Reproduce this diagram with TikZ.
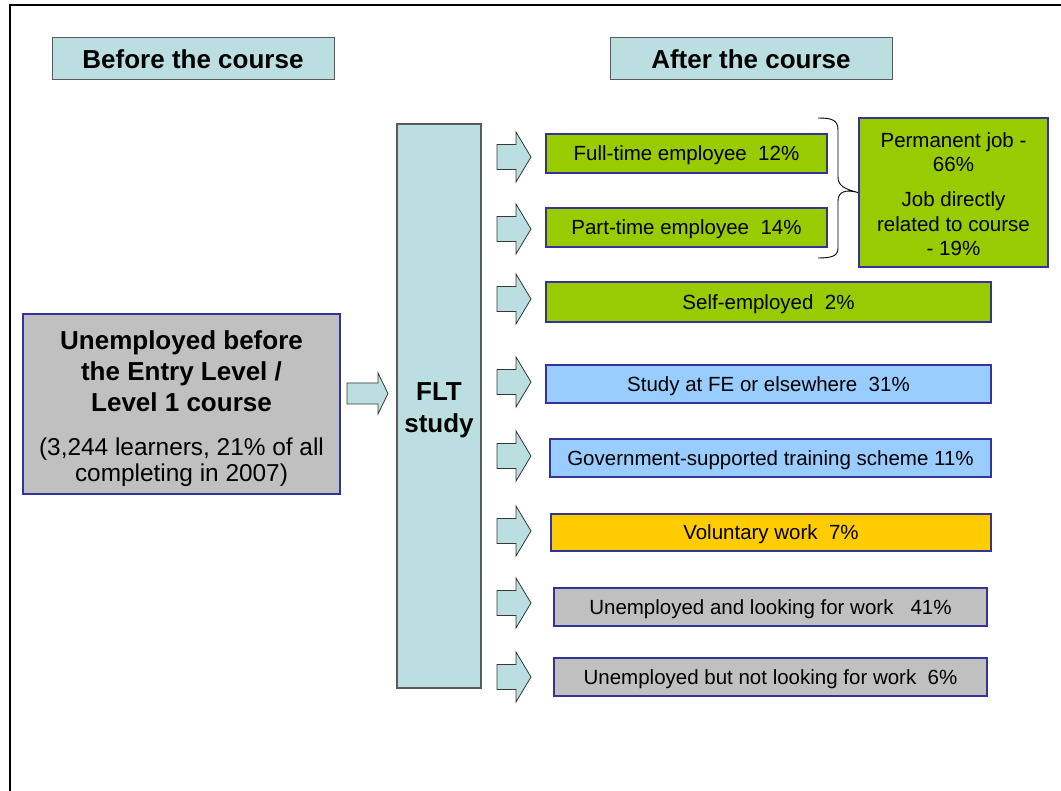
\documentclass[tikz,border=0pt]{standalone}
\usepackage{fontspec}
\setmainfont{Liberation Sans}
\definecolor{boxblue}{RGB}{51,51,153}
\definecolor{leaf}{RGB}{153,204,0}
\definecolor{sky}{RGB}{153,204,255}
\definecolor{amber}{RGB}{255,204,0}
\definecolor{silver}{RGB}{192,192,192}
\definecolor{pale}{RGB}{187,223,224}
\definecolor{rim}{RGB}{90,90,90}
\begin{document}
\begin{tikzpicture}[x=1pt,y=-1pt,
  outcome/.style={draw=boxblue, line width=2.4pt, inner sep=0pt, text depth=0pt,
    font=\fontsize{20.5}{25}\selectfont, align=center},
  heading/.style={draw=rim, line width=1pt, fill=pale, inner sep=0pt, text depth=0pt,
    minimum width=282pt, minimum height=42pt,
    font=\bfseries\fontsize{26}{31}\selectfont},
  blockarrow/.style={draw=rim!60!black, line width=0.8pt, fill=pale},
  smallarrow/.pic={\draw[blockarrow] (0,-12.5) -- (19,-12.5) -- (19,-25) -- (34,0)
      -- (19,25) -- (19,12.5) -- (0,12.5) -- cycle;},
  bigarrow/.pic={\draw[blockarrow] (0,-10.5) -- (31,-10.5) -- (31,-20.5) -- (41,0)
      -- (31,20.5) -- (31,10.5) -- (0,10.5) -- cycle;}
]
\useasboundingbox (0,0) rectangle (1061,791);

% page frame (top and left edges)
\draw[line width=2.7pt] (10,791) -- (10,5) -- (1061,5);

% column headings
\node[heading] (before) at (193,59) {Before the course};
\node[heading] (after) at (751,59) {After the course};

% starting group
\node[outcome, fill=silver, minimum width=317pt, minimum height=180pt] (unemp) at (181.5,404) {};
\node[font=\bfseries\fontsize{26}{31}\selectfont, align=center, inner sep=0pt] (unemptitle)
  at (181.5,371) {Unemployed before\\the Entry Level /\\Level 1 course};
\node[font=\fontsize{24.4}{26.5}\selectfont, align=center, inner sep=0pt] (unempnote)
  at (181.5,462) {(3,244 learners, 21\% of all\\completing in 2007)};

\pic at (347,393.5) {bigarrow};

% the course itself
\node[draw=rim, line width=1.3pt, fill=pale, minimum width=84pt, minimum height=564pt,
  inner sep=0pt] (flt) at (439,406) {};
\node[font=\bfseries\fontsize{26}{32}\selectfont, align=center, inner sep=0pt] (flttext)
  at (439,410) {FLT\\study};

% outcomes
\node[outcome, fill=leaf, minimum width=281pt, minimum height=39pt] (ft) at (686.5,153.5)
  {Full-time employee\ \ 12\%};
\node[outcome, fill=leaf, minimum width=281pt, minimum height=39pt] (pt) at (686.5,227.5)
  {Part-time employee\ \ 14\%};
\node[outcome, fill=leaf, minimum width=445pt, minimum height=40pt] (se) at (768.5,302)
  {Self-employed\ \ 2\%};
\node[outcome, fill=sky, minimum width=445pt, minimum height=38pt] (st) at (768.5,384)
  {Study at FE or elsewhere\ \ 31\%};
\node[outcome, fill=sky, minimum width=441pt, minimum height=38pt] (gov) at (770.5,458)
  {Government-supported training scheme 11\%};
\node[outcome, fill=amber, minimum width=440pt, minimum height=37pt] (vol) at (771,532.5)
  {Voluntary work\ \ 7\%};
\node[outcome, fill=silver, minimum width=433pt, minimum height=38pt] (ul) at (770.5,607)
  {Unemployed and looking for work\ \ \ 41\%};
\node[outcome, fill=silver, minimum width=433pt, minimum height=38pt] (un) at (770.5,677)
  {Unemployed but not looking for work\ \ 6\%};

% employment details
\node[outcome, fill=leaf, minimum width=189pt, minimum height=149pt] (perm) at (953.5,192.5) {};
\node[font=\fontsize{20.5}{24.5}\selectfont, align=center, inner sep=0pt] (permtext)
  at (953.5,152) {Permanent job -\\66\%};
\node[font=\fontsize{20.5}{24.5}\selectfont, align=center, inner sep=0pt] (reltext)
  at (953.5,224) {Job directly\\related to course\\- 19\%};

% arrows out of the course
\foreach \y in {157,229,299,382,456,531,603,677}
  \pic at (497,\y) {smallarrow};

% brace grouping the two employee outcomes
\coordinate (tip) at (perm.west);
\draw[line width=0.9pt] (818,118) .. controls (832,118) and (838,120) .. (838,130)
  -- (838,177) .. controls (838,186) and (845,189) .. (tip)
  .. controls (845,189) and (838,192) .. (838,201)
  -- (838,248) .. controls (838,256) and (832,258) .. (818,258);
\end{tikzpicture}
\end{document}
